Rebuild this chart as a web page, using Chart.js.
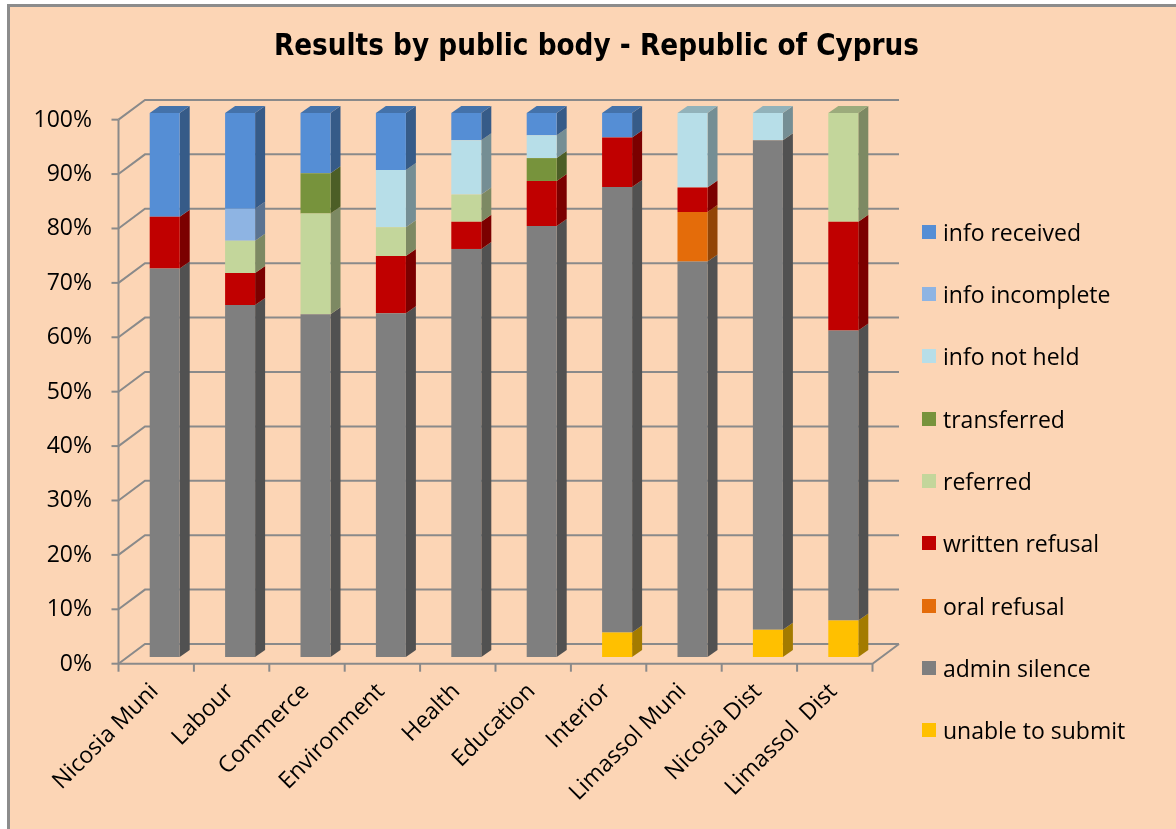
<!DOCTYPE html>
<html><head><meta charset="utf-8">
<script src="https://cdn.jsdelivr.net/npm/chart.js@4"></script>
<style>
html,body{margin:0;padding:0;background:#fff;width:1176px;height:829px;overflow:hidden}
#frame{position:absolute;left:7px;top:4px;width:1200px;height:900px;background:#FCD5B5;border-left:3px solid #8c8c8c;border-top:3px solid #8c8c8c}
#wrap{position:absolute;left:0;top:0;width:1176px;height:829px}
#legend{position:absolute;left:922px;top:0;font-family:'Open Sans',sans-serif;font-size:23px;color:#000}
.item{position:absolute;left:0;white-space:pre;display:flex;align-items:center;height:30px}
.sw{width:14px;height:14px;margin-right:7px;flex:none}
</style></head>
<body>
<div id="frame"></div>
<div id="wrap"><canvas id="c" width="1176" height="829"></canvas></div>
<div id="legend"></div>
<script>
// ---- data (percent of requests) ----
const categories = ['Nicosia Muni','Labour','Commerce','Environment','Health','Education','Interior','Limassol Muni','Nicosia Dist','Limassol  Dist'];
const unableToSubmit = [0, 0, 0, 0, 0, 0, 4.5, 0, 5, 6.7];
const adminSilence   = [71.4, 64.7, 63.0, 63.2, 75, 79.2, 81.9, 72.7, 90, 53.3];
const oralRefusal    = [0, 0, 0, 0, 0, 0, 0, 9.1, 0, 0];
const writtenRefusal = [9.5, 5.9, 0, 10.5, 5, 8.3, 9.1, 4.5, 0, 20];
const referred       = [0, 5.9, 18.5, 5.3, 5, 0, 0, 0, 0, 20];
const transferred    = [0, 0, 7.4, 0, 0, 4.2, 0, 0, 0, 0];
const infoNotHeld    = [0, 0, 0, 10.5, 10, 4.2, 0, 13.7, 5, 0];
const infoIncomplete = [0, 5.9, 0, 0, 0, 0, 0, 0, 0, 0];
const infoReceived   = [19.1, 17.6, 11.1, 10.5, 5, 4.1, 4.5, 0, 0, 0];
const seriesNames = ['unable to submit','admin silence','oral refusal','written refusal','referred','transferred','info not held','info incomplete','info received'];
const seriesValues = [unableToSubmit, adminSilence, oralRefusal, writtenRefusal, referred, transferred, infoNotHeld, infoIncomplete, infoReceived];
const seriesColors = ['#FFC000','#7F7F7F','#E46C0A','#C00000','#C3D69B','#77933C','#B7DEE8','#8EB4E3','#558ED5'];
const titleText = 'Results by public body - Republic of Cyprus';

// ---- styling helpers ----
function shade(hex, f){
  const n = parseInt(hex.slice(1),16);
  const r = Math.round(((n>>16)&255)*f), g = Math.round(((n>>8)&255)*f), b = Math.round((n&255)*f);
  return 'rgb('+r+','+g+','+b+')';
}
const GRID = '#8a8a8a';
const D = {fx:-8.5, fy:6.7, bx:18, by:-13, sx:10, sy:-7};
const AXIS_FONT = {family:"'Open Sans', sans-serif", size:23};

const threeD = {
  id:'threeD',
  beforeDatasetsDraw(chart){
    const {ctx, chartArea:a, scales:{x, y}} = chart;
    ctx.save();
    ctx.strokeStyle = GRID; ctx.lineWidth = 2; ctx.lineCap = 'butt';
    y.ticks.forEach(t => {
      const py = y.getPixelForValue(t.value);
      ctx.beginPath();
      ctx.moveTo(a.left + D.fx, py + D.fy);
      ctx.lineTo(a.left + D.bx, py + D.by);
      ctx.lineTo(a.right + D.bx, py + D.by);
      ctx.stroke();
      ctx.beginPath();
      ctx.moveTo(a.left + D.fx - 7, py + D.fy);
      ctx.lineTo(a.left + D.fx, py + D.fy);
      ctx.stroke();
    });
    const y0 = y.getPixelForValue(0), y100 = y.getPixelForValue(100);
    ctx.beginPath();
    ctx.moveTo(a.left + D.fx, y100 + D.fy);
    ctx.lineTo(a.left + D.fx, y0 + D.fy);
    ctx.stroke();
    ctx.beginPath();
    ctx.moveTo(a.left + D.fx, y0 + D.fy);
    ctx.lineTo(a.right + D.fx, y0 + D.fy);
    ctx.lineTo(a.right + D.bx, y0 + D.by);
    ctx.stroke();
    const n = categories.length, cw = (a.right - a.left) / n;
    for (let k = 0; k <= n; k++){
      const px = (k < n ? x.getPixelForValue(k) - cw/2 : x.getPixelForValue(n-1) + cw/2) + D.fx;
      ctx.beginPath();
      ctx.moveTo(px, y0 + D.fy);
      ctx.lineTo(px, y0 + D.fy + 8);
      ctx.stroke();
    }
    const metas = chart.data.datasets.map((d,i) => chart.getDatasetMeta(i));
    for (let j = 0; j < n; j++){
      let topIdx = -1;
      metas.forEach((m,i) => { if (chart.data.datasets[i].data[j] > 0) topIdx = i; });
      metas.forEach((m,i) => {
        const v = chart.data.datasets[i].data[j];
        if (!(v > 0)) return;
        const el = m.data[j];
        const p = el.getProps(['x','y','base','width'], true);
        const l = p.x - p.width/2, r = p.x + p.width/2;
        const t = Math.min(p.y, p.base), b = Math.max(p.y, p.base);
        const col = seriesColors[i];
        ctx.fillStyle = shade(col, 0.64);
        ctx.beginPath();
        ctx.moveTo(r, t); ctx.lineTo(r + D.sx, t + D.sy);
        ctx.lineTo(r + D.sx, b + D.sy); ctx.lineTo(r, b);
        ctx.closePath(); ctx.fill();
        if (i === topIdx){
          ctx.fillStyle = shade(col, 0.8);
          ctx.beginPath();
          ctx.moveTo(l, t); ctx.lineTo(l + D.sx, t + D.sy);
          ctx.lineTo(r + D.sx, t + D.sy); ctx.lineTo(r, t);
          ctx.closePath(); ctx.fill();
        }
      });
    }
    ctx.restore();
  }
};

const datasets = seriesNames.map((name, i) => ({
  label: name,
  data: seriesValues[i],
  backgroundColor: seriesColors[i],
  borderWidth: 0,
  barPercentage: 0.398,
  categoryPercentage: 1
}));

new Chart(document.getElementById('c'), {
  type: 'bar',
  data: {labels: categories, datasets},
  options: {
    responsive: false,
    animation: false,
    devicePixelRatio: 1,
    layout: {padding: {left: 17, right: 0, top: 0, bottom: 0}},
    plugins: {
      legend: {display: false},
      tooltip: {enabled: false},
      title: {
        display: true, text: titleText, color: '#000',
        font: {family: "'DejaVu Sans Condensed', 'DejaVu Sans', sans-serif", size: 29.3, weight: 'bold'},
        padding: {top: 30, bottom: 47.8}
      }
    },
    scales: {
      x: {
        stacked: true,
        grid: {display: false, drawTicks: false},
        border: {display: false},
        ticks: {color: '#000', font: AXIS_FONT, minRotation: 45, maxRotation: 45, padding: 21, labelOffset: -10, autoSkip: false},
        afterFit(s){ s.height = 172; }
      },
      y: {
        stacked: true, min: 0, max: 100,
        grid: {display: false, drawTicks: false},
        border: {display: false},
        ticks: {stepSize: 10, color: '#000', font: AXIS_FONT, padding: 35, labelOffset: 7, callback: v => v + '%'},
        afterFit(s){ s.width = 110; }
      },
      yR: {
        position: 'right', min: 0, max: 1,
        grid: {display: false, drawTicks: false},
        border: {display: false},
        ticks: {display: false},
        afterFit(s){ s.width = 295; }
      }
    }
  },
  plugins: [threeD]
});

// HTML legend (reverse of stacking order, as in the original)
const lg = document.getElementById('legend');
seriesNames.slice().reverse().forEach((name, k) => {
  const i = seriesNames.length - 1 - k;
  const it = document.createElement('div');
  it.className = 'item';
  it.style.top = (231.8 + 62.3*k - 15) + 'px';
  const sw = document.createElement('span');
  sw.className = 'sw'; sw.style.background = seriesColors[i];
  const tx = document.createElement('span');
  tx.textContent = name;
  it.appendChild(sw); it.appendChild(tx);
  lg.appendChild(it);
});
</script>
</body></html>
